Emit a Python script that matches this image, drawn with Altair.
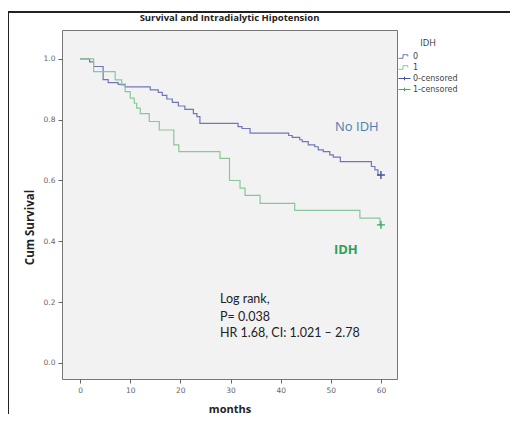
import altair as alt
import pandas as pd

# ---- data ----
no_idh_months = [0, 1.9, 2.7, 4.6, 5.6, 7.6, 9.0, 14.0, 15.6, 16.4, 17.3, 18.4, 19.6, 20.9,
                 22.6, 23.3, 23.9, 31.5, 32.3, 33.9, 41.6, 42.3, 43.8, 44.3, 45.5, 46.8,
                 47.5, 48.5, 49.8, 50.5, 51.9, 58.1, 58.8, 59.4, 60]
no_idh_surv = [1.0, 0.99, 0.975, 0.932, 0.922, 0.916, 0.908, 0.898, 0.89, 0.88, 0.868, 0.857,
               0.845, 0.834, 0.82, 0.81, 0.788, 0.777, 0.771, 0.756, 0.748, 0.742, 0.734,
               0.728, 0.717, 0.711, 0.701, 0.695, 0.684, 0.677, 0.662, 0.646, 0.635, 0.618, 0.618]
idh_months = [0, 2.7, 7.0, 8.3, 9.0, 10.0, 10.8, 11.3, 12.0, 13.8, 15.8, 18.7, 19.7, 27.9,
              29.8, 31.9, 32.9, 35.9, 42.8, 55.8, 59.8, 60]
idh_surv = [1.0, 0.958, 0.931, 0.914, 0.892, 0.871, 0.854, 0.838, 0.82, 0.794, 0.766, 0.717,
            0.695, 0.673, 0.6, 0.575, 0.551, 0.525, 0.502, 0.476, 0.454, 0.454]
censor_groups = ["0-censored", "1-censored"]
censor_months = [60, 60]
censor_surv = [0.618, 0.454]

legend_domain = ["0", "1", "0-censored", "1-censored"]
legend_colors = ["#6f77b7", "#88c898", "#44539a", "#3aa860"]
x_ticks = [0, 10, 20, 30, 40, 50, 60]
y_ticks = [0.0, 0.2, 0.4, 0.6, 0.8, 1.0]
note_lines = ["Log rank,", "P= 0.038", "HR 1.68, CI: 1.021 \u2013 2.78"]
group_labels = ["No IDH", "IDH"]

# ---- tables ----
curves = pd.concat([
    pd.DataFrame({"t": no_idh_months, "s": no_idh_surv, "g": "0"}),
    pd.DataFrame({"t": idh_months, "s": idh_surv, "g": "1"}),
])
censor = pd.DataFrame({"t": censor_months, "s": censor_surv, "g": censor_groups})
legend_rows = pd.DataFrame({"t": [60] * 4, "s": [0.618] * 4, "g": legend_domain})
notes = pd.DataFrame({"t": [27.9] * 3, "s": [0.21, 0.152, 0.097], "txt": note_lines})
lab_no = pd.DataFrame({"t": [55.2], "s": [0.776], "txt": [group_labels[0]]})
lab_idh = pd.DataFrame({"t": [53.0], "s": [0.372], "txt": [group_labels[1]]})

x_enc = alt.X("t:Q", scale=alt.Scale(domain=[-3.6, 63.2], nice=False, zero=False),
              axis=alt.Axis(values=x_ticks, title="months", format="d"))
y_enc = alt.Y("s:Q", scale=alt.Scale(domain=[-0.053, 1.095], nice=False, zero=False),
              axis=alt.Axis(values=y_ticks, title="Cum Survival", format=".1f"))

step_path = "M-1,0.3H-0.25V-0.3H0.55V0"
legend_cross = "M-1,0H1M0,-0.3V0.3"
censor_cross = "M-1,0H1M0,-1V1"

color_scale = alt.Scale(domain=legend_domain, range=legend_colors)
shape_scale = alt.Scale(domain=legend_domain,
                        range=[step_path, step_path, legend_cross, legend_cross])

# outer picture frame (decoration: top and left edges, kept inside the canvas)
frame_top = alt.Chart(alt.Data(values=[{}])).mark_rect(color="#222222").encode(
    x=alt.value(-55), x2=alt.value(448), y=alt.value(-19), y2=alt.value(-17))
frame_left = alt.Chart(alt.Data(values=[{}])).mark_rect(color="#222222").encode(
    x=alt.value(-55), x2=alt.value(-53), y=alt.value(-19), y2=alt.value(384))

lines = alt.Chart(curves).mark_line(interpolate="step-after", strokeWidth=1.2).encode(
    x=x_enc, y=y_enc,
    color=alt.Color("g:N", scale=color_scale, title="IDH"),
)

# invisible layer that only carries the legend's symbols
legend_layer = alt.Chart(legend_rows).mark_point(filled=False, opacity=0, size=1).encode(
    x=x_enc, y=y_enc,
    color=alt.Color("g:N", scale=color_scale, title="IDH"),
    shape=alt.Shape("g:N", scale=shape_scale, title="IDH"),
)

points = alt.Chart(censor).mark_point(
    filled=False, size=64, strokeWidth=1.4, opacity=1, shape=censor_cross
).encode(
    x=x_enc, y=y_enc,
    color=alt.Color("g:N", scale=color_scale, title="IDH"),
)

note_text = alt.Chart(notes).mark_text(
    align="left", baseline="middle", font="Lato", fontSize=12.5, color="#222222"
).encode(x=x_enc, y=y_enc, text="txt:N")

no_text = alt.Chart(lab_no).mark_text(
    align="center", baseline="middle", font="Open Sans", fontSize=13, color="#4a7eb0"
).encode(x=x_enc, y=y_enc, text="txt:N")

idh_text = alt.Chart(lab_idh).mark_text(
    align="center", baseline="middle", font="Open Sans", fontSize=13, fontWeight="bold",
    color="#2f9e58"
).encode(x=x_enc, y=y_enc, text="txt:N")

chart = alt.layer(frame_top, frame_left, lines, legend_layer, points, note_text, no_text,
                  idh_text).properties(
    width=335, height=349,
    autosize=alt.AutoSizeParams(type="none"),
    padding={"left": 54, "top": 22, "right": 114, "bottom": 37},
    title=alt.TitleParams("Survival and Intradialytic Hipotension", font="Open Sans",
                          fontSize=9.5, fontWeight="bold", anchor="middle", offset=-11,
                          frame="group", color="#222222"),
).configure(background="white").configure_view(
    fill="#f2f2f2", stroke="#777777", strokeWidth=1
).configure_axis(
    domain=False, grid=False, tickColor="#666666", tickSize=4, labelColor="#666666",
    labelFont="DejaVu Sans", labelFontSize=7.5, labelPadding=3,
    titleFont="Open Sans", titleFontSize=11, titleFontWeight="bold", titleColor="#222222",
).configure_axisY(titlePadding=8, titleY=197, titleFontSize=11.5).configure_axisX(
    titlePadding=10
).configure_legend(
    orient="none", legendX=336, legendY=9, titleFont="Open Sans", titleFontSize=9,
    titleFontWeight="normal", titleColor="#333333", titleAnchor="middle", titlePadding=2,
    labelFont="DejaVu Sans", labelFontSize=8, labelColor="#444444", symbolSize=144,
    symbolStrokeWidth=1, rowPadding=-5, labelOffset=2, symbolOpacity=1
)

chart.save("out.html", embed_options={"renderer": "svg", "actions": False})
